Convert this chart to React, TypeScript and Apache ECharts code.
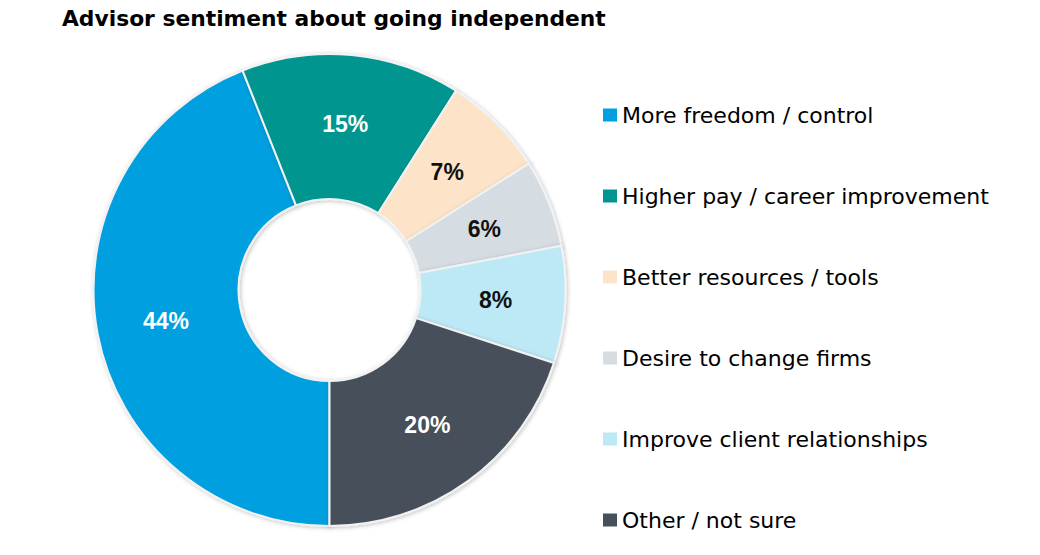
import React, { useEffect, useRef } from "react";
import * as echarts from "echarts";

const categories = [
  "More freedom / control",
  "Higher pay / career improvement",
  "Better resources / tools",
  "Desire to change firms",
  "Improve client relationships",
  "Other / not sure",
];
const values = [44, 15, 7, 6, 8, 20];
const colors = ["#009FDF", "#00968F", "#FDE4C8", "#D5DCE2", "#BDE9F6", "#46505A"];
const labelColors = ["#FFFFFF", "#FFFFFF", "#111111", "#111111", "#111111", "#FFFFFF"];
const titleText = "Advisor sentiment about going independent";

export default function App() {
  const ref = useRef<HTMLDivElement>(null);
  useEffect(() => {
    if (!ref.current) return;
    const chart = echarts.init(ref.current, undefined, { renderer: "svg" });
    chart.setOption({
      animation: false,
      backgroundColor: "#FFFFFF",
      title: {
        text: titleText,
        left: 62,
        top: 7,
        padding: 0,
        textStyle: {
          fontFamily: "DejaVu Sans",
          fontWeight: "bold",
          fontSize: 21.8,
          color: "#000000",
        },
      },
      legend: {
        orient: "vertical",
        left: 603,
        top: 103,
        padding: 0,
        itemWidth: 14,
        itemHeight: 13,
        itemGap: 57,
        icon: "rect",
        data: categories,
        selectedMode: false,
        itemStyle: {
          borderWidth: 0,
          shadowBlur: 0,
          shadowOffsetX: 0,
          shadowOffsetY: 0,
        },
        textStyle: {
          fontFamily: "DejaVu Sans",
          fontSize: 22,
          lineHeight: 24,
          color: "#000000",
        },
      },
      series: [
        {
          type: "pie",
          center: [329.5, 290],
          radius: [91, 236],
          startAngle: 270,
          clockwise: true,
          avoidLabelOverlap: false,
          itemStyle: {
            borderColor: "#F2F2F2",
            borderWidth: 2,
            shadowBlur: 4,
            shadowOffsetX: 1,
            shadowOffsetY: 1,
            shadowColor: "rgba(0,0,0,0.25)",
          },
          label: {
            show: true,
            position: "inside",
            formatter: "{c}%",
            fontFamily: "Liberation Sans, Arial, sans-serif",
            fontWeight: "bold",
            fontSize: 23,
          },
          labelLine: { show: false },
          emphasis: { disabled: true },
          data: categories.map((name, i) => ({
            name,
            value: values[i],
            itemStyle: { color: colors[i] },
            label: { color: labelColors[i] },
          })),
        },
      ],
    });
    return () => chart.dispose();
  }, []);
  return (
    <div
      ref={ref}
      style={{ position: "fixed", left: 0, top: 0, width: 1040, height: 555 }}
    />
  );
}
